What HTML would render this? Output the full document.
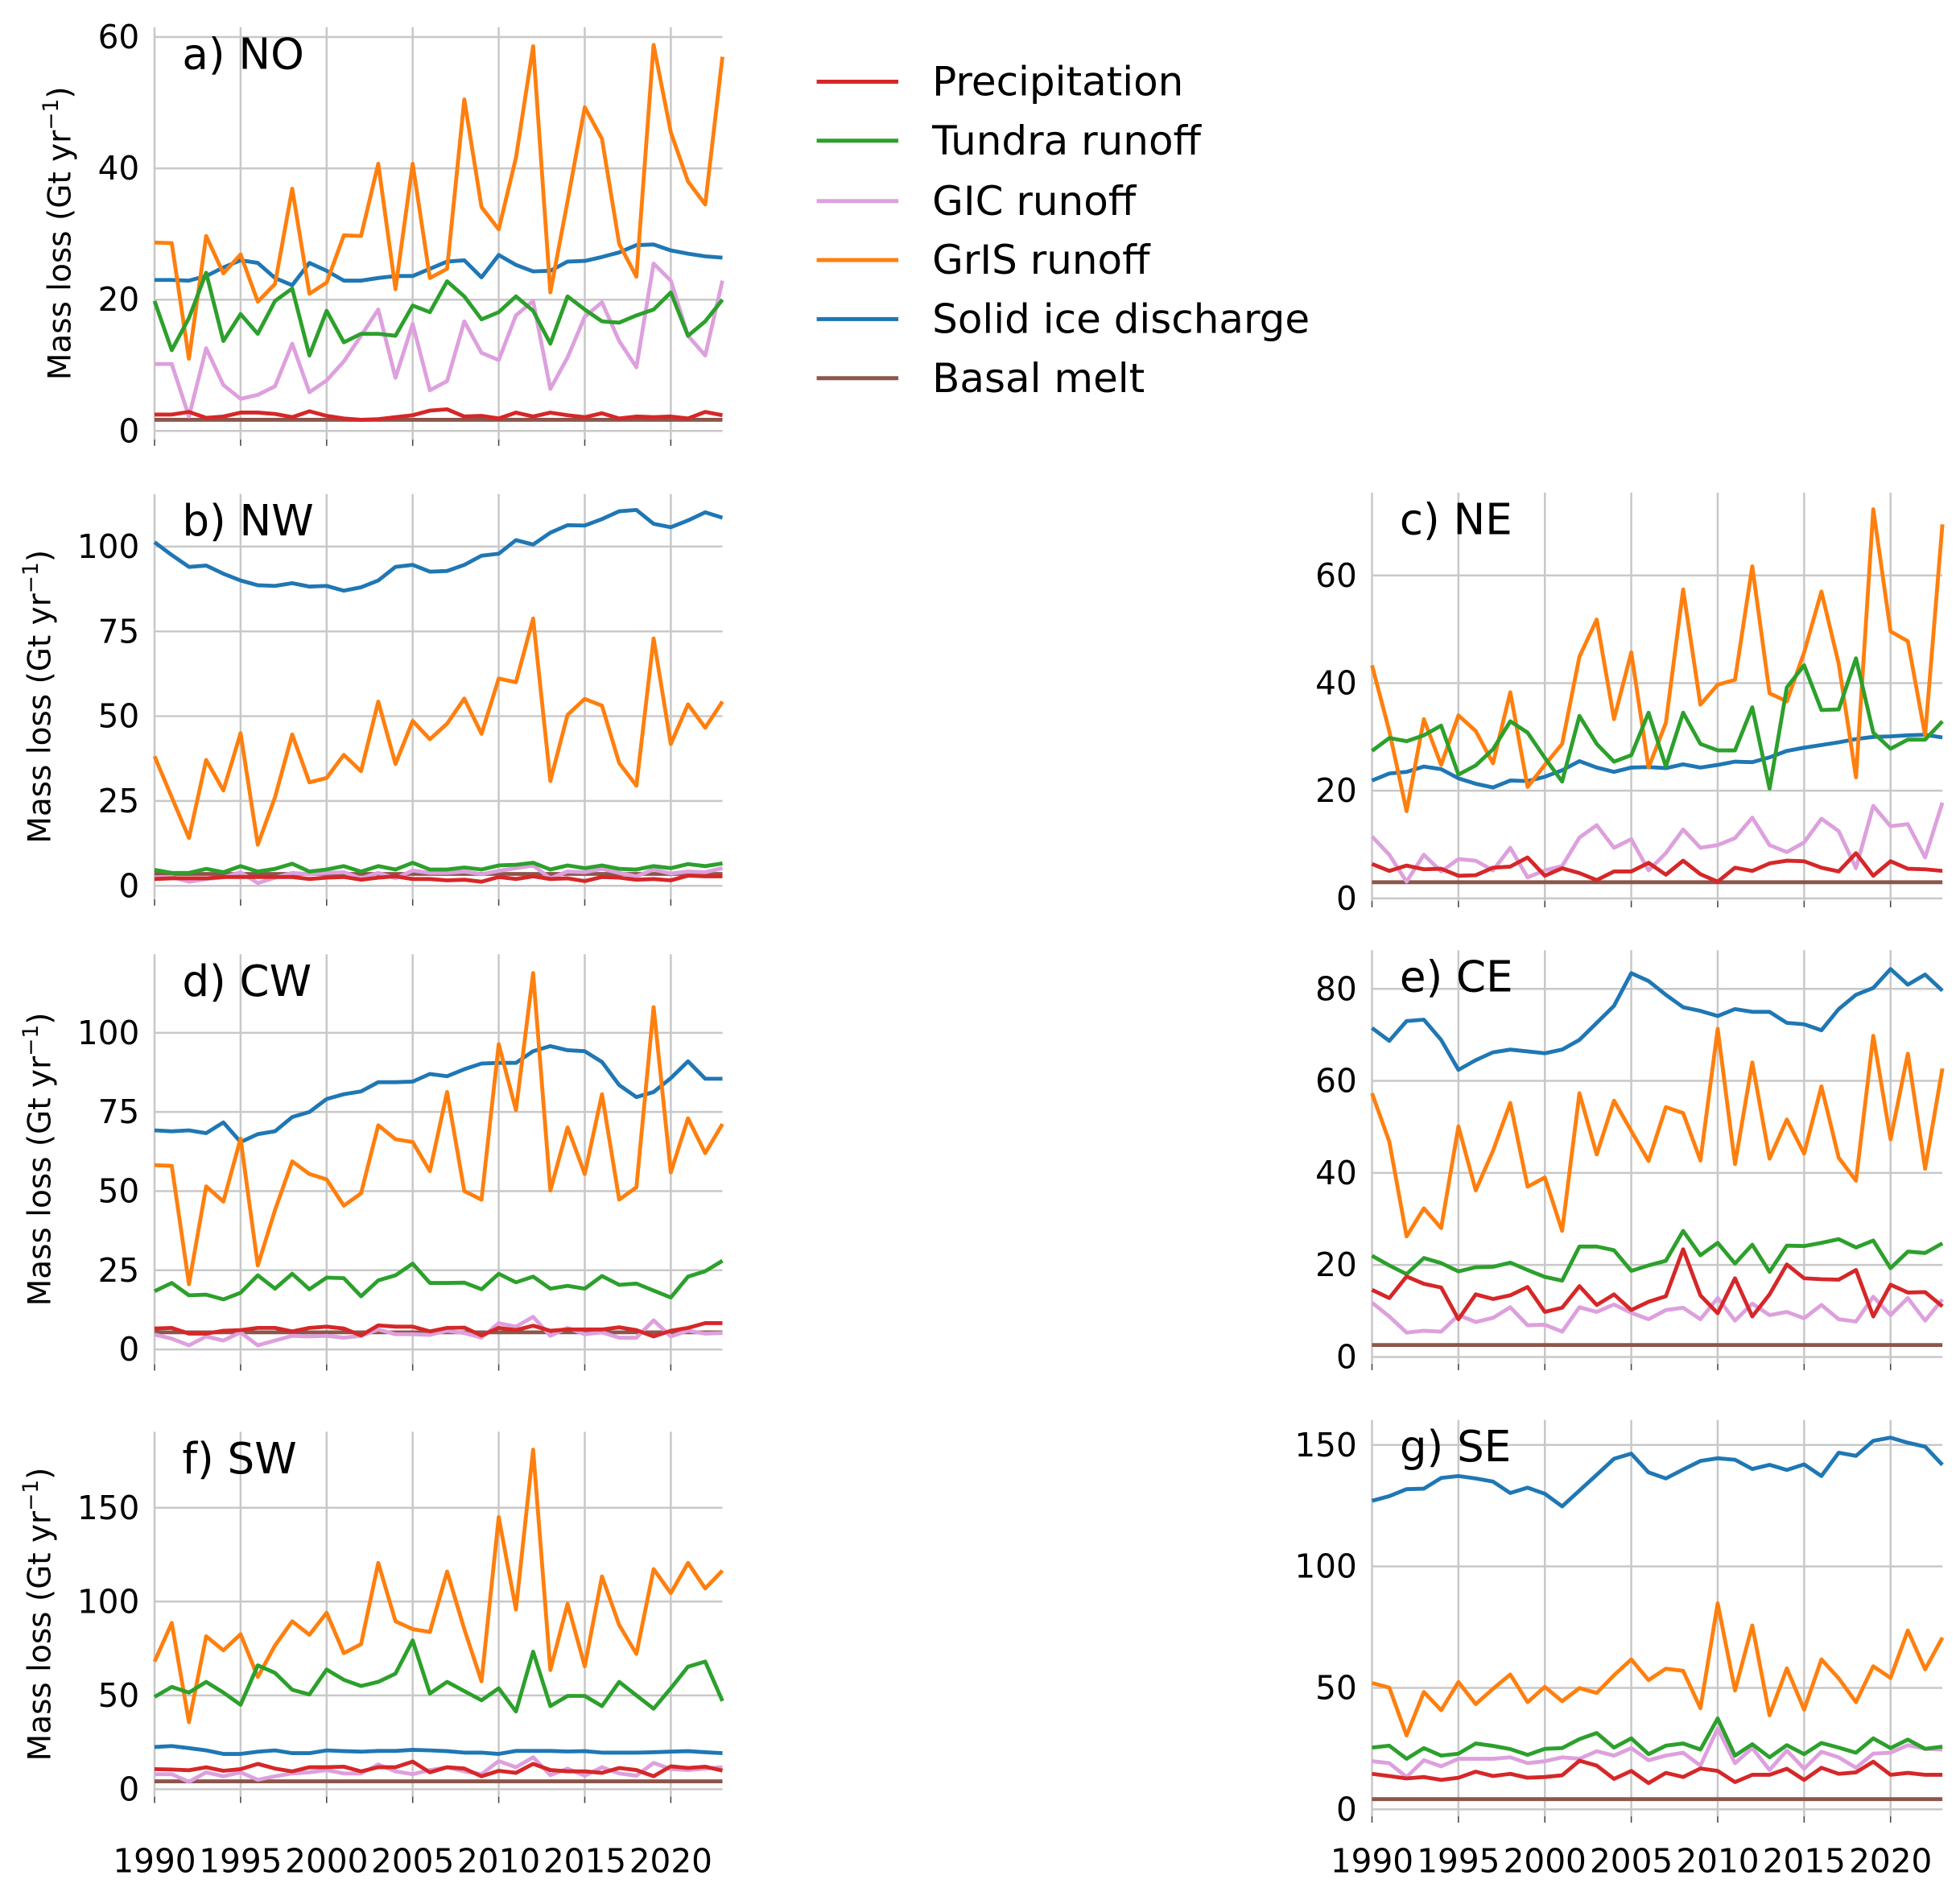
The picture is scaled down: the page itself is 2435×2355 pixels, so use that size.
<!DOCTYPE html>
<html><head><meta charset="utf-8"><title>Mass loss by region</title>
<style>
html,body{margin:0;padding:0;background:#fff;}
svg{display:block;}
text{font-family:"DejaVu Sans","Liberation Sans",sans-serif;fill:#000;}
</style></head>
<body>
<svg id="chart" xmlns="http://www.w3.org/2000/svg" width="2435" height="2355" viewBox="0 0 1560 1509" preserveAspectRatio="none">
<g id="legend">
<g><line x1="650" y1="65" x2="715" y2="65" stroke="#d62728" stroke-width="3.2"/><text x="742" y="76" font-size="32">Precipitation</text></g>
<g><line x1="650" y1="112" x2="715" y2="112" stroke="#2ca02c" stroke-width="3.2"/><text x="742" y="123" font-size="32">Tundra runoff</text></g>
<g><line x1="650" y1="160" x2="715" y2="160" stroke="#dda0dd" stroke-width="3.2"/><text x="742" y="171" font-size="32">GIC runoff</text></g>
<g><line x1="650" y1="207" x2="715" y2="207" stroke="#ff7f0e" stroke-width="3.2"/><text x="742" y="218" font-size="32">GrIS runoff</text></g>
<g><line x1="650" y1="254" x2="715" y2="254" stroke="#1f77b4" stroke-width="3.2"/><text x="742" y="265" font-size="32">Solid ice discharge</text></g>
<g><line x1="650" y1="301" x2="715" y2="301" stroke="#8c564b" stroke-width="3.2"/><text x="742" y="312" font-size="32">Basal melt</text></g>
</g>
</svg>
<script>
const years = [1990,1991,1992,1993,1994,1995,1996,1997,1998,1999,2000,2001,2002,2003,2004,2005,2006,2007,2008,2009,2010,2011,2012,2013,2014,2015,2016,2017,2018,2019,2020,2021,2022,2023];
const xTickYears = [1990,1995,2000,2005,2010,2015,2020];

// a) NO
const noPrecip = [2.5,2.5,2.9,2.0,2.2,2.8,2.8,2.6,2.1,3.0,2.3,1.9,1.7,1.8,2.1,2.4,3.1,3.3,2.2,2.3,1.9,2.8,2.2,2.8,2.4,2.1,2.7,1.9,2.2,2.1,2.2,1.9,2.9,2.4];
const noTundra = [19.8,12.3,17.2,24.1,13.7,17.8,14.8,19.8,21.7,11.5,18.3,13.5,14.8,14.8,14.5,19.1,18.1,22.8,20.5,17.0,18.1,20.5,18.3,13.3,20.5,18.5,16.7,16.5,17.6,18.5,21.1,14.5,16.7,20.0];
const noGic = [10.2,10.2,2.2,12.6,7.0,4.9,5.5,6.8,13.3,5.9,7.7,10.6,14.5,18.5,8.1,16.3,6.2,7.6,16.7,11.9,10.8,17.6,19.8,6.4,11.2,17.4,19.6,13.7,9.7,25.5,22.9,14.5,11.5,22.9];
const noGris = [28.7,28.6,11.0,29.7,24.0,26.9,19.7,22.4,36.9,20.9,22.6,29.8,29.7,40.7,21.6,40.7,23.3,24.7,50.5,34.1,30.7,41.6,58.6,21.1,35.0,49.3,44.5,28.5,23.5,58.8,45.5,38.0,34.5,57.0];
const noSolid = [23.0,23.0,22.9,23.6,24.9,26.0,25.6,23.3,22.2,25.6,24.4,22.9,22.9,23.3,23.6,23.6,24.7,25.8,26.0,23.4,26.8,25.3,24.3,24.4,25.8,25.9,26.5,27.2,28.3,28.4,27.5,27.0,26.6,26.4];
const noBasal = [1.7,1.7,1.7,1.7,1.7,1.7,1.7,1.7,1.7,1.7,1.7,1.7,1.7,1.7,1.7,1.7,1.7,1.7,1.7,1.7,1.7,1.7,1.7,1.7,1.7,1.7,1.7,1.7,1.7,1.7,1.7,1.7,1.7,1.7];
const noTicks = [0,20,40,60];

// b) NW
const nwPrecip = [2.0,2.2,2.2,2.2,2.6,2.6,2.6,2.6,2.6,2.0,2.4,2.6,1.8,2.4,2.8,2.0,2.0,1.6,1.8,1.2,2.6,2.0,2.8,2.0,2.2,1.4,2.6,2.4,1.8,2.0,1.6,3.0,2.8,2.8];
const nwTundra = [4.7,3.8,3.8,5.0,4.0,5.8,4.2,5.0,6.5,4.2,4.8,5.8,4.2,5.8,4.8,6.8,4.8,4.8,5.4,4.8,6.0,6.2,6.8,4.8,6.0,5.2,6.0,5.0,4.8,5.8,5.2,6.4,5.8,6.6];
const nwGic = [2.5,2.6,1.2,2.0,2.5,4.0,0.8,2.4,3.8,3.4,3.8,4.0,2.2,3.8,2.2,4.5,3.8,3.8,4.2,3.4,4.4,5.2,6.0,2.2,4.2,4.0,5.0,3.8,2.8,4.8,3.6,4.2,4.0,5.2];
const nwGris = [38.2,26.1,14.1,37.1,28.1,45.0,12.1,26.1,44.6,30.5,31.8,38.6,33.8,54.3,35.9,48.6,43.2,47.8,55.2,44.8,61.1,60.0,78.8,30.9,50.4,55.1,53.1,36.2,29.5,72.9,41.8,53.5,46.6,54.3];
const nwSolid = [101.3,97.5,94.0,94.4,92.0,90.0,88.6,88.4,89.2,88.2,88.4,87.0,88.0,90.0,94.0,94.6,92.6,92.8,94.6,97.3,97.9,101.9,100.6,104.1,106.3,106.2,108.1,110.4,110.8,106.7,105.7,107.7,110.1,108.5];
const nwBasal = [3.5,3.5,3.5,3.5,3.5,3.5,3.5,3.5,3.5,3.5,3.5,3.5,3.5,3.5,3.5,3.5,3.5,3.5,3.5,3.5,3.5,3.5,3.5,3.5,3.5,3.5,3.5,3.5,3.5,3.5,3.5,3.5,3.5,3.5];
const nwTicks = [0,25,50,75,100];

// c) NE
const nePrecip = [6.4,5.1,6.1,5.4,5.5,4.2,4.3,5.7,5.9,7.6,4.2,5.6,4.7,3.4,5.0,5.0,6.6,4.4,7.0,4.5,3.1,5.7,5.1,6.5,7.0,6.9,5.7,5.0,8.4,4.2,6.9,5.5,5.4,5.1];
const neTundra = [27.4,29.8,29.2,30.3,32.1,23.0,24.7,27.7,32.9,30.8,26.1,21.7,33.9,28.7,25.4,26.6,34.5,24.5,34.5,28.7,27.5,27.5,35.5,20.4,39.2,43.3,35.0,35.1,44.6,30.8,27.8,29.5,29.5,32.9];
const neGic = [11.5,8.1,3.1,8.1,5.0,7.3,7.0,5.2,9.4,3.9,5.2,6.0,11.3,13.6,9.4,11.0,5.2,8.4,12.8,9.4,9.9,11.2,15.0,9.9,8.6,10.4,14.8,12.5,5.6,17.2,13.4,13.8,7.6,17.8];
const neGris = [43.3,31.1,16.2,33.3,24.8,34.0,31.1,25.1,38.3,20.7,24.8,28.7,44.9,51.8,33.3,45.7,24.3,32.6,57.4,36.0,39.7,40.6,61.7,38.1,36.6,45.7,57.0,43.6,22.5,72.3,49.6,47.8,30.3,69.5];
const neSolid = [21.9,23.2,23.5,24.5,24.0,22.3,21.3,20.6,21.9,21.8,22.6,23.8,25.5,24.3,23.5,24.3,24.4,24.2,24.9,24.3,24.8,25.4,25.3,26.2,27.4,28.0,28.5,29.0,29.6,30.0,30.1,30.3,30.4,29.9];
const neBasal = [3.0,3.0,3.0,3.0,3.0,3.0,3.0,3.0,3.0,3.0,3.0,3.0,3.0,3.0,3.0,3.0,3.0,3.0,3.0,3.0,3.0,3.0,3.0,3.0,3.0,3.0,3.0,3.0,3.0,3.0,3.0,3.0,3.0,3.0];
const neTicks = [0,20,40,60];

// d) CW
const cwPrecip = [6.6,6.8,5.0,5.0,5.9,6.1,6.8,6.8,5.7,6.8,7.2,6.6,4.4,7.6,7.2,7.2,5.7,6.8,6.9,4.4,6.8,6.1,7.5,5.9,6.3,6.3,6.3,7.0,6.1,4.1,5.9,6.8,8.3,8.3];
const cwTundra = [18.4,21.0,17.1,17.3,15.8,17.9,23.4,19.2,23.9,19.0,22.7,22.5,16.8,21.8,23.4,27.1,21.0,21.0,21.1,19.0,23.9,21.2,23.0,19.2,20.1,19.2,23.2,20.4,20.8,18.6,16.4,23.0,24.7,28.0];
const cwGic = [4.7,3.4,1.3,4.1,2.8,5.4,1.3,2.8,4.3,4.1,4.3,3.7,4.3,6.3,4.8,4.8,4.6,5.9,5.2,3.7,8.3,7.2,10.3,4.3,6.8,4.8,5.4,3.7,3.7,9.2,4.1,5.9,5.0,5.2];
const cwGris = [58.2,58.0,20.6,51.5,46.7,66.6,26.5,44.0,59.4,55.4,53.7,45.4,49.3,70.8,66.4,65.5,56.3,81.3,50.0,47.3,96.4,75.6,118.9,50.2,70.1,55.4,80.6,47.3,51.2,108.1,55.9,73.0,62.0,71.2];
const cwSolid = [69.2,68.9,69.2,68.3,71.7,65.5,68.0,68.9,73.4,75.0,79.1,80.6,81.5,84.4,84.4,84.6,87.0,86.3,88.5,90.3,90.5,90.5,94.2,95.8,94.5,94.2,90.8,83.5,79.7,81.3,85.7,91.0,85.5,85.5];
const cwBasal = [5.4,5.4,5.4,5.4,5.4,5.4,5.4,5.4,5.4,5.4,5.4,5.4,5.4,5.4,5.4,5.4,5.4,5.4,5.4,5.4,5.4,5.4,5.4,5.4,5.4,5.4,5.4,5.4,5.4,5.4,5.4,5.4,5.4,5.4];
const cwTicks = [0,25,50,75,100];

// e) CE
const cePrecip = [14.6,12.8,17.5,15.9,15.1,8.2,13.6,12.6,13.4,15.2,9.8,10.7,15.4,11.3,13.6,10.2,12.0,13.2,23.4,13.4,9.5,17.1,8.8,13.6,20.1,17.1,16.9,16.8,18.9,8.8,15.7,14.0,14.1,11.0];
const ceTundra = [22.0,19.9,18.0,21.5,20.4,18.6,19.5,19.6,20.5,18.9,17.4,16.6,24.0,24.0,23.2,18.7,19.9,20.9,27.4,22.1,24.8,20.3,24.4,18.5,24.2,24.1,24.8,25.6,23.8,25.3,19.3,22.9,22.6,24.7];
const ceGic = [11.8,8.8,5.3,5.7,5.5,9.1,7.6,8.5,10.8,6.9,7.0,5.5,10.8,9.8,11.4,9.6,8.2,10.2,10.7,8.2,12.8,7.9,11.6,9.1,9.8,8.4,11.3,8.2,7.7,13.1,9.1,12.8,7.9,12.5];
const ceGris = [57.3,46.8,26.2,32.3,28.0,50.1,36.2,44.8,55.2,37.0,39.0,27.4,57.3,44.0,55.7,49.1,42.6,54.3,53.0,42.7,71.3,41.9,64.0,43.1,51.6,44.2,58.8,43.3,38.3,69.8,47.3,65.9,40.9,62.7];
const ceSolid = [71.5,68.7,73.0,73.3,68.9,62.4,64.5,66.2,66.8,66.4,66.0,66.8,68.9,72.6,76.3,83.4,81.7,78.7,76.0,75.2,74.1,75.6,75.0,75.0,72.6,72.3,71.0,75.6,78.7,80.2,84.3,80.9,83.1,79.6];
const ceBasal = [2.6,2.6,2.6,2.6,2.6,2.6,2.6,2.6,2.6,2.6,2.6,2.6,2.6,2.6,2.6,2.6,2.6,2.6,2.6,2.6,2.6,2.6,2.6,2.6,2.6,2.6,2.6,2.6,2.6,2.6,2.6,2.6,2.6,2.6];
const ceTicks = [0,20,40,60,80];

// f) SW
const swPrecip = [10.7,10.5,10.1,11.7,9.8,10.7,13.5,11.0,9.5,11.7,11.7,12.0,9.5,11.7,11.7,14.7,9.0,11.7,11.0,6.9,9.8,8.7,13.5,10.2,9.5,9.5,8.7,11.3,10.2,6.9,12.2,11.3,12.0,9.9];
const swTundra = [49.2,54.5,51.5,57.2,51.5,45.0,66.0,62.0,53.0,50.5,63.8,58.3,55.0,57.2,61.6,79.3,51.0,57.2,52.3,47.4,53.8,41.4,73.3,44.3,49.7,49.7,44.3,57.2,50.0,42.9,53.8,65.3,68.0,47.0];
const swGic = [8.0,8.0,3.9,9.0,6.9,9.0,5.0,6.9,8.4,9.0,10.2,8.4,8.4,13.2,9.5,8.0,10.2,11.7,9.5,8.0,15.0,11.7,17.0,7.5,11.0,7.2,11.7,8.4,7.2,14.0,10.7,10.2,11.0,11.7];
const swGris = [68.0,88.6,35.7,81.5,74.0,82.6,59.8,76.6,89.5,82.3,94.0,72.5,77.3,120.6,89.5,85.3,83.8,116.0,85.3,57.5,145.0,95.8,181.0,63.5,98.8,65.5,113.4,87.5,72.1,117.3,104.5,120.6,107.0,116.5];
const swSolid = [22.5,23.0,21.9,20.7,18.8,18.8,20.0,20.7,19.2,19.2,20.7,20.3,20.0,20.4,20.4,21.0,20.7,20.3,19.5,19.5,18.8,20.4,20.4,20.4,20.1,20.3,19.5,19.5,19.5,19.7,20.0,20.3,19.7,19.2];
const swBasal = [4.2,4.2,4.2,4.2,4.2,4.2,4.2,4.2,4.2,4.2,4.2,4.2,4.2,4.2,4.2,4.2,4.2,4.2,4.2,4.2,4.2,4.2,4.2,4.2,4.2,4.2,4.2,4.2,4.2,4.2,4.2,4.2,4.2,4.2];
const swTicks = [0,50,100,150];

// g) SE
const sePrecip = [14.6,13.7,12.7,13.3,12.1,13.0,15.5,13.7,14.6,13.0,13.3,14.0,20.0,18.0,12.5,15.8,10.8,15.0,13.3,16.8,15.8,11.2,14.2,14.2,16.7,12.1,17.1,14.6,15.2,19.6,14.2,15.0,14.2,14.2];
const seTundra = [25.4,26.2,20.8,25.2,22.1,22.9,27.1,26.1,24.8,22.4,24.9,25.2,28.9,31.4,25.4,29.2,22.7,26.2,27.1,24.6,37.4,22.1,26.8,21.4,26.4,22.7,27.3,25.4,23.3,29.2,25.2,28.7,24.9,25.8];
const seGic = [19.8,19.0,13.3,20.2,17.7,20.8,20.8,20.8,21.4,19.0,19.8,21.4,20.8,23.9,22.1,25.2,20.2,22.1,23.3,18.0,33.3,19.0,25.2,16.2,24.2,16.7,23.7,21.4,17.1,22.9,23.3,26.4,24.9,24.6];
const seGris = [52.0,50.1,30.4,48.3,40.8,52.4,43.3,49.6,55.5,44.1,50.4,44.5,49.9,47.9,55.2,61.7,53.2,57.9,57.0,41.6,84.8,48.9,75.7,38.7,58.0,41.0,61.7,53.9,44.1,58.9,54.1,73.6,57.6,70.7];
const seSolid = [127.0,128.9,131.8,132.0,136.4,137.2,136.2,134.9,130.2,132.4,129.9,124.7,131.2,137.7,144.3,146.4,138.7,136.2,139.9,143.4,144.5,143.9,140.1,141.8,139.7,142.0,137.2,146.8,145.5,151.7,153.0,150.9,149.3,141.8];
const seBasal = [4.2,4.2,4.2,4.2,4.2,4.2,4.2,4.2,4.2,4.2,4.2,4.2,4.2,4.2,4.2,4.2,4.2,4.2,4.2,4.2,4.2,4.2,4.2,4.2,4.2,4.2,4.2,4.2,4.2,4.2,4.2,4.2,4.2,4.2];
const seTicks = [0,50,100,150];

const NS = 'http://www.w3.org/2000/svg';
const svg = document.getElementById('chart');

const seriesStyle = [
  {key:'basal', name:'basal-melt', color:'#8c564b'},
  {key:'solid', name:'solid-ice-discharge', color:'#1f77b4'},
  {key:'gris', name:'gris-runoff', color:'#ff7f0e'},
  {key:'gic', name:'gic-runoff', color:'#dda0dd'},
  {key:'tundra', name:'tundra-runoff', color:'#2ca02c'},
  {key:'precip', name:'precipitation', color:'#d62728'}
];

const panels = [
  {id:'no', label:'a) NO', x0:123, x1:575, p0:343, refV:60, refP:29.5, ylim:[-1.3,61.5], ticks:noTicks, ylab:true, ylabX:48, xlab:false,
   data:{precip:noPrecip,tundra:noTundra,gic:noGic,gris:noGris,solid:noSolid,basal:noBasal}},
  {id:'nw', label:'b) NW', x0:123, x1:575, p0:705, refV:100, refP:435, ylim:[-4,115.5], ticks:nwTicks, ylab:true, ylabX:32, xlab:false,
   data:{precip:nwPrecip,tundra:nwTundra,gic:nwGic,gris:nwGris,solid:nwSolid,basal:nwBasal}},
  {id:'ne', label:'c) NE', x0:1092, x1:1546, p0:715, refV:60, refP:458, ylim:[-0.5,75.4], ticks:neTicks, ylab:false, xlab:false,
   data:{precip:nePrecip,tundra:neTundra,gic:neGic,gris:neGris,solid:neSolid,basal:neBasal}},
  {id:'cw', label:'d) CW', x0:123, x1:575, p0:1074, refV:100, refP:822, ylim:[-4.7,124.8], ticks:cwTicks, ylab:true, ylabX:32, xlab:false,
   data:{precip:cwPrecip,tundra:cwTundra,gic:cwGic,gris:cwGris,solid:cwSolid,basal:cwBasal}},
  {id:'ce', label:'e) CE', x0:1092, x1:1546, p0:1080, refV:80, refP:787, ylim:[-1.5,88.4], ticks:ceTicks, ylab:false, xlab:false,
   data:{precip:cePrecip,tundra:ceTundra,gic:ceGic,gris:ceGris,solid:ceSolid,basal:ceBasal}},
  {id:'sw', label:'f) SW', x0:123, x1:575, p0:1424, refV:150, refP:1200, ylim:[-4,190.5], ticks:swTicks, ylab:true, ylabX:32, xlab:true,
   data:{precip:swPrecip,tundra:swTundra,gic:swGic,gris:swGris,solid:swSolid,basal:swBasal}},
  {id:'se', label:'g) SE', x0:1092, x1:1546, p0:1440, refV:150, refP:1150, ylim:[-2.9,160.3], ticks:seTicks, ylab:false, xlab:true,
   data:{precip:sePrecip,tundra:seTundra,gic:seGic,gris:seGris,solid:seSolid,basal:seBasal}}
];

function mk(tag, attrs){
  const e = document.createElementNS(NS, tag);
  for (const k in attrs) e.setAttribute(k, attrs[k]);
  return e;
}

panels.forEach(p => {
  const xs = v => p.x0 + (v - years[0]) * (p.x1 - p.x0) / (years[years.length-1] - years[0]);
  const ys = v => p.p0 + v * (p.refP - p.p0) / p.refV;
  const top = ys(p.ylim[1]), bot = ys(p.ylim[0]);
  const g = mk('g', {});
  
  
  svg.appendChild(g);

  xTickYears.forEach(yr => {
    const gl = mk('line', {x1:xs(yr), x2:xs(yr), y1:top, y2:bot, stroke:'#c8c8c8', 'stroke-width':1.6});
    
    
    g.appendChild(gl);
    const tk = mk('line', {x1:xs(yr), x2:xs(yr), y1:bot, y2:bot+5, stroke:'#444', 'stroke-width':1});
    
    
    g.appendChild(tk);
    if (p.xlab) {
      const t = mk('text', {x:xs(yr), y:1490, 'font-size':26, 'text-anchor':'middle'});
      t.textContent = yr;
      
      
      g.appendChild(t);
    }
  });
  p.ticks.forEach(v => {
    const gl = mk('line', {x1:p.x0, x2:p.x1, y1:ys(v), y2:ys(v), stroke:'#c8c8c8', 'stroke-width':1.6});
    
    
    g.appendChild(gl);
    const t = mk('text', {x:p.x0-12, y:ys(v)+9, 'font-size':26, 'text-anchor':'end'});
    t.textContent = v;
    
    
    g.appendChild(t);
  });

  seriesStyle.forEach(s => {
    const vals = p.data[s.key];
    const d = vals.map((v,i) => (i ? 'L' : 'M') + xs(years[i]).toFixed(2) + ' ' + ys(v).toFixed(2)).join(' ');
    const path = mk('path', {d:d, fill:'none', stroke:s.color, 'stroke-width':3.1, 'stroke-linejoin':'round', 'stroke-linecap':'butt'});
    
    
    g.appendChild(path);
  });

  const lab = mk('text', {x:p.x0+22, y:top+33, 'font-size':34});
  lab.textContent = p.label;
  
  
  g.appendChild(lab);

  if (p.ylab) {
    const cy = (top + bot) / 2;
    const t = mk('text', {x:0, y:0, 'font-size':25, 'text-anchor':'middle', transform:'translate(' + (p.ylabX+8) + ',' + cy + ') rotate(-90)'});
    
    
    t.appendChild(document.createTextNode('Mass loss (Gt yr'));
    const sup = mk('tspan', {'font-size':17, dy:-10});
    sup.textContent = '\u22121';
    t.appendChild(sup);
    const cl = mk('tspan', {dy:10});
    cl.textContent = ')';
    t.appendChild(cl);
    g.appendChild(t);
  }
});
</script>
</body></html>
